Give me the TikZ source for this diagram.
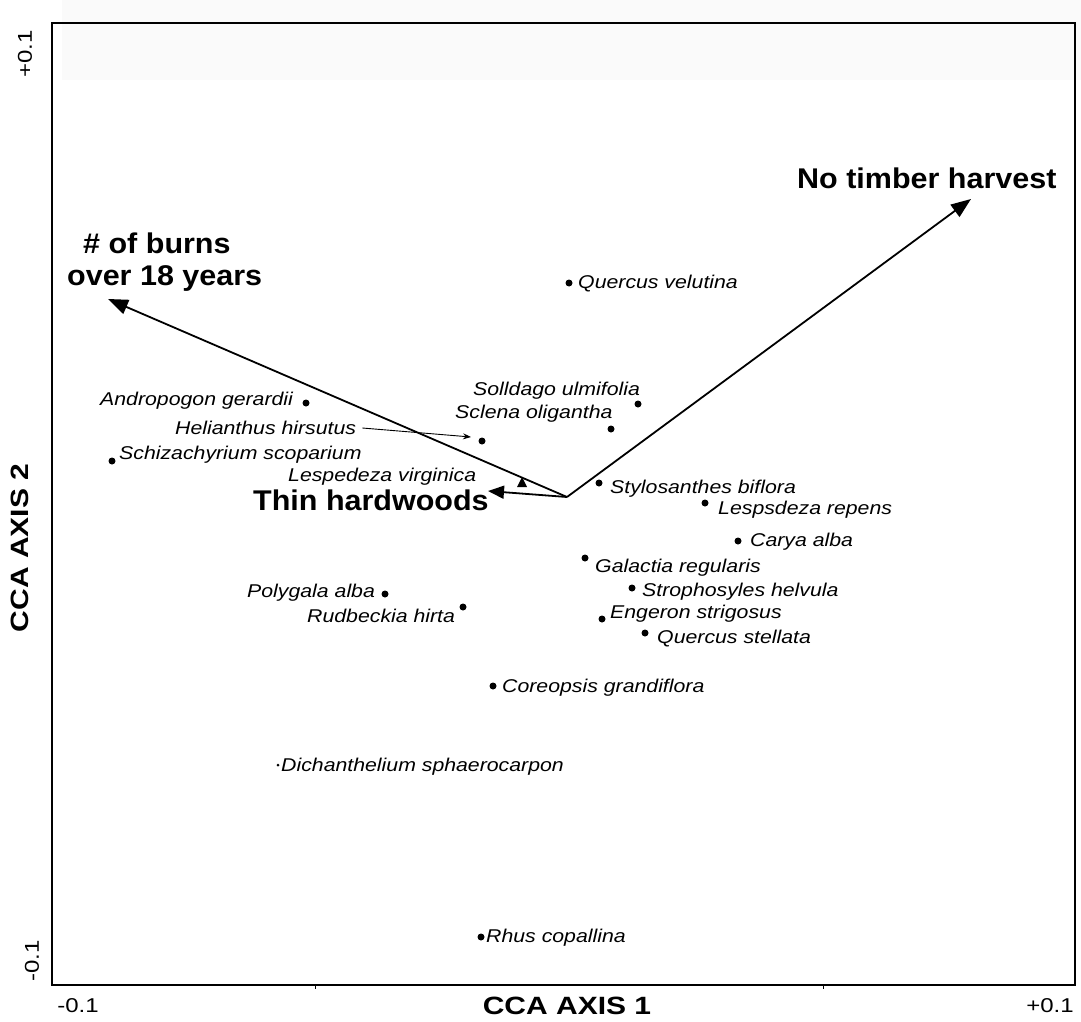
\documentclass[tikz,border=0pt]{standalone}
\usepackage{fontspec}
\usetikzlibrary{arrows.meta}
\newfontfamily\spf[FakeStretch=1.15]{Liberation Sans}
\newfontfamily\lblf[FakeStretch=1.07]{Liberation Sans}
\newfontfamily\axf[FakeStretch=1.2]{Liberation Sans}
\tikzset{
  species/.style={anchor=base west, inner sep=0pt, font=\spf\itshape\fontsize{18.5}{20}\selectfont},
  biglabel/.style={anchor=base west, inner sep=0pt, font=\lblf\bfseries\fontsize{28.5}{32}\selectfont},
  axisnum/.style={inner sep=0pt, font=\axf\fontsize{20}{24}\selectfont},
  axistitle/.style={inner sep=0pt, font=\axf\bfseries\fontsize{25}{28}\selectfont},
  pt/.style={circle, fill=black, inner sep=0pt, minimum size=7pt},
  vec/.style={line width=1.8pt, -{Triangle[length=20pt,width=15pt]}},
  thinvec/.style={line width=1.8pt, -{Triangle[length=16pt,width=13pt]}},
  pointer/.style={line width=0.9pt, -{Stealth[length=8pt,width=6pt]}},
  frame/.style={line width=1.3pt}
}
\begin{document}
\begin{tikzpicture}[x=1pt,y=-1pt]
\useasboundingbox (0,0) rectangle (1081,1022);
\fill[black!2] (62,0) rectangle (1081,80);
% frame
\draw[frame] (52,23) rectangle (1075,985);
\draw[line width=1pt] (315,985) -- (315,989);
\draw[line width=1pt] (823,985) -- (823,989);
% axis labels
\node[axisnum] (xmin) at (78,1006) {-0.1};
\node[axisnum] (xmax) at (1050,1006) {+0.1};
\node[axistitle] (xtitle) at (567,1006) {CCA AXIS 1};
\node[axisnum, rotate=90] (ymax) at (25,54) {+0.1};
\node[axisnum, rotate=90] (ymin) at (32,961) {-0.1};
\node[axistitle, rotate=90] (ytitle) at (20,548) {CCA AXIS 2};
% vectors
\coordinate (o) at (567,497);
\coordinate (burnTip) at (108,299);
\coordinate (timberTip) at (971,199);
\coordinate (thinTip) at (488,491);
\draw[vec] (o) -- (burnTip);
\draw[vec] (o) -- (timberTip);
\draw[thinvec] (o) -- (thinTip);
\node[biglabel] (burns1) at (83,253) {\# of burns};
\node[biglabel] (burns2) at (67,285) {over 18 years};
\node[biglabel] (timber) at (797,188) {No timber harvest};
\node[biglabel] (thin) at (253,510) {Thin hardwoods};
% species points
\node[pt] (queve) at (569,283) {};
\node[species] (quevel) at (578,288) {Quercus velutina};
\node[pt] (solul) at (638,404) {};
\node[species] (solull) at (473,395) {Solldago ulmifolia};
\node[pt] (sclol) at (611,429) {};
\node[species] (scloll) at (455,418) {Sclena oligantha};
\node[pt] (andge) at (306,403) {};
\node[species] (andgel) at (100,405) {Andropogon gerardii};
\node[pt] (helhi) at (482,441) {};
\node[species] (helhil) at (175,434) {Helianthus hirsutus};
\coordinate (helArrowEnd) at (471,437);
\draw[pointer] (helhil.base east) ++(6,-6) -- (helArrowEnd);
\node[pt] (schsc) at (112,461) {};
\node[species] (schscl) at (119,459) {Schizachyrium scoparium};
\node[species] (lesvil) at (288,481) {Lespedeza virginica};
\fill (522,477) -- (527,487) -- (517,487) -- cycle;
\node[pt] (stybi) at (599,483) {};
\node[species] (stybil) at (610,493) {Stylosanthes biflora};
\node[pt] (lesre) at (705,503) {};
\node[species] (lesrel) at (718,514) {Lespsdeza repens};
\node[pt] (caral) at (738,541) {};
\node[species] (carall) at (750,546) {Carya alba};
\node[pt] (galre) at (585,558) {};
\node[species] (galrel) at (595,572) {Galactia regularis};
\node[pt] (strhe) at (632,588) {};
\node[species] (strhel) at (642,596) {Strophosyles helvula};
\node[pt] (erist) at (602,619) {};
\node[species] (eristl) at (610,618) {Engeron strigosus};
\node[pt] (quest) at (645,633) {};
\node[species] (questl) at (657,643) {Quercus stellata};
\node[pt] (polal) at (385,594) {};
\node[species] (polall) at (247,597) {Polygala alba};
\node[pt] (rudhi) at (463,607) {};
\node[species] (rudhil) at (307,622) {Rudbeckia hirta};
\node[pt] (corgr) at (493,686) {};
\node[species] (corgrl) at (502,692) {Coreopsis grandiflora};
\node[circle, fill=black, inner sep=0pt, minimum size=3pt] (dicsp) at (278,765) {};
\node[species] (dicspl) at (281,771) {Dichanthelium sphaerocarpon};
\node[pt] (rhuco) at (481,937) {};
\node[species] (rhucol) at (486,942) {Rhus copallina};
\end{tikzpicture}
\end{document}
